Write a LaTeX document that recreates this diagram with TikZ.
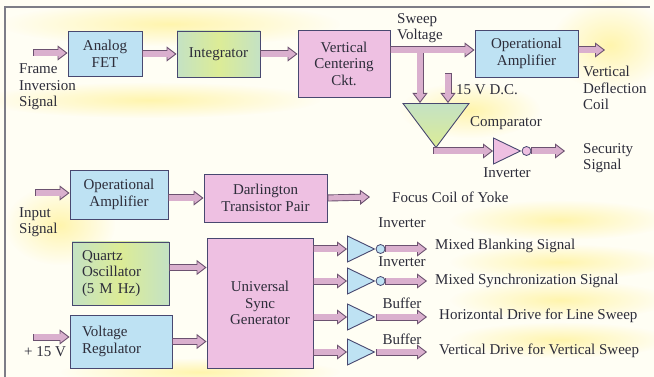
\documentclass[tikz,border=0pt]{standalone}
\usepackage{fontspec}
\setmainfont{Liberation Serif}
\usetikzlibrary{arrows.meta,shapes.geometric,fadings}

\definecolor{paper}{RGB}{255,254,244}
\definecolor{blob}{RGB}{255,242,150}
\definecolor{frameline}{RGB}{125,125,135}
\definecolor{boxedge}{RGB}{72,72,112}
\definecolor{bluebox}{RGB}{190,226,243}
\definecolor{pinkbox}{RGB}{238,192,226}
\definecolor{greenbox}{RGB}{196,226,196}
\definecolor{greenmid}{RGB}{220,236,150}
\definecolor{pipefill}{RGB}{218,176,206}
\definecolor{pipeedge}{RGB}{108,82,112}
\definecolor{ink}{RGB}{45,45,58}

\tikzfading[name=softspot, inner color=transparent!25, outer color=transparent!100]

\tikzset{
  block/.style={draw=boxedge, line width=0.9pt, align=center, inner sep=2pt, text=ink},
  bluebk/.style={block, fill=bluebox},
  pinkbk/.style={block, fill=pinkbox},
  greenbk/.style={block, left color=greenbox, right color=greenbox, middle color=greenmid},
  gate/.style={isosceles triangle, isosceles triangle stretches, draw=boxedge,
    line width=0.9pt, inner sep=0pt, minimum width=26pt, minimum height=27pt},
  bubble/.style={circle, draw=boxedge, line width=0.8pt, inner sep=0pt, minimum size=9pt},
  pipe/.style={draw=pipeedge, line width=7pt,
    -{Triangle[length=10pt, width=15pt, fill=pipefill, line width=0.9pt]},
    postaction={draw=pipefill, line width=5.2pt, -, shorten <=0.9pt, shorten >=8pt}},
  lbl/.style={text=ink, inner sep=0pt, align=left},
}

\begin{document}
\begin{tikzpicture}[x=1pt, y=-1pt, font=\fontsize{15}{16.5}\selectfont]
  \useasboundingbox (0,0) rectangle (654,377);
  % paper with yellow patches
  \fill[paper] (0,0) rectangle (654,377);
  \foreach \cx/\cy/\rx/\ry in {170/24/170/22, 150/100/170/18, 610/45/60/45,
      60/225/55/40, 560/220/110/20, 560/262/110/18, 560/300/110/20,
      560/340/110/18, 200/372/140/14, 470/110/70/28}
    \fill[blob, path fading=softspot] (\cx,\cy) ellipse ({\rx} and {\ry});
  \draw[frameline, line width=1.2pt] (5,377) -- (5,7) -- (650,7);

  % vertical deflection chain
  \node[bluebk, minimum width=74pt, minimum height=45pt] (fet) at (105,54) {Analog\\FET};
  \node[greenbk, minimum width=83pt, minimum height=46pt] (integ) at (218.5,54) {Integrator};
  \node[pinkbk, minimum width=92pt, minimum height=67pt] (vcc) at (344,63.5) {Vertical\\Centering\\Ckt.};
  \node[bluebk, minimum width=103pt, minimum height=47pt] (vamp) at (526.5,53.5) {Operational\\Amplifier};
  \node[gate, shape border rotate=270, anchor=north, top color=greenbox, bottom color=greenmid,
    minimum width=66pt, minimum height=44pt] (cmp) at (436,103) {};
  \node[gate, fill=pinkbox, anchor=west] (sinv) at (493,151) {};
  \node[bubble, fill=pinkbox, anchor=west] (sbub) at (sinv.apex) {};

  \node[lbl, anchor=west] (frmtxt) at (19,87) {Frame\\Inversion\\Signal};
  \node[lbl, anchor=west] (sweep) at (397,28) {Sweep\\Voltage};
  \node[lbl, anchor=west] (dctxt) at (456,90) {15 V D.C.};
  \node[lbl, anchor=west] (defl) at (583,88) {Vertical\\Deflection\\Coil};
  \node[lbl] (cmptxt) at (506,123) {Comparator};
  \node[lbl] (sinvtxt) at (507,173) {Inverter};
  \node[lbl, anchor=west] (secur) at (583,158) {Security\\Signal};

  \coordinate (frmin) at (33,53);
  \coordinate (tap) at (420,50);
  \coordinate (dc) at (448,73);
  \coordinate (vout) at (605,50);

  \draw[pipe] (frmin) -- (frmin -| fet.west);
  \draw[pipe] (fet) -- (integ);
  \draw[pipe] (integ.east) -- (integ.east -| vcc.west);
  \draw[pipe] (tap) -- (tap |- cmp.north);
  \draw[pipe] (dc) -- (dc |- cmp.north);
  \draw[pipe] (tap -| vcc.east) -- (tap -| vamp.west);
  \draw[pipe] (vout -| vamp.east) -- (vout);
  \draw[pipe] ([xshift=-3pt]cmp.apex |- sinv.west) -- (sinv.west);
  \draw[pipe] (sbub.east) -- ([xshift=-18pt]secur.west |- sbub.east);

  % focus coil
  \node[bluebk, minimum width=98pt, minimum height=49pt] (iamp) at (119,194.5) {Operational\\Amplifier};
  \node[pinkbk, minimum width=123pt, minimum height=48pt] (darl) at (265.5,198) {Darlington\\Transistor Pair};
  \node[lbl, anchor=west] (intxt) at (19,222) {Input\\Signal};
  \node[lbl, anchor=west] (focus) at (392,197) {Focus Coil of Yoke};
  \coordinate (insig) at (35,193);

  \draw[pipe] (insig) -- (insig -| iamp.west);
  \draw[pipe] (darl.west -| iamp.east) -- (darl.west);
  \draw[pipe] (darl.east) -- ([xshift=-22pt]focus.west);

  % sync generator
  \node[greenbk, text width=77pt, inner xsep=10pt, minimum height=63pt, align=left] (xtal) at (120.5,273.5) {Quartz\\Oscillator\\(5 M Hz)};
  \node[bluebk, text width=78pt, inner xsep=12pt, minimum height=53pt, align=left] (vreg) at (121,341.5) {Voltage\\Regulator};
  \node[pinkbk, minimum width=106pt, minimum height=130pt] (usg) at (260,303) {Universal\\Sync\\Generator};
  \node[lbl] (vintxt) at (45,352) {+ 15 V};
  \coordinate (vin) at (33,337);

  \draw[pipe] (vin) -- (vin -| vreg.west);
  \draw[pipe] ([yshift=6pt]xtal.east) -- ([yshift=6pt]xtal.east -| usg.west);
  \draw[pipe] (vreg.east) -- (vreg.east -| usg.west);

  \foreach \g/\y in {1/249, 2/281, 3/317, 4/352} {
    \node[gate, fill=bluebox, anchor=west] (g\g) at (347,\y) {};
    \draw[pipe] (usg.east |- g\g.west) -- (g\g.west);
  }
  \node[bubble, fill=bluebox, anchor=west] (b1) at (g1.apex) {};
  \node[bubble, fill=bluebox, anchor=west] (b2) at (g2.apex) {};

  \node[lbl] (inv1) at (402,223) {Inverter};
  \node[lbl] (inv2) at (402,262) {Inverter};
  \node[lbl] (buf3) at (402,303) {Buffer};
  \node[lbl] (buf4) at (402,339) {Buffer};
  \node[lbl, anchor=west] (o1) at (435,246) {Mixed Blanking Signal};
  \node[lbl, anchor=west] (o2) at (435,281) {Mixed Synchronization Signal};
  \node[lbl, anchor=west] (o3) at (439,316) {Horizontal Drive for Line Sweep};
  \node[lbl, anchor=west] (o4) at (439,351) {Vertical Drive for Vertical Sweep};

  \draw[pipe] (b1.east) -- ([xshift=-8pt]o1.west |- b1.east);
  \draw[pipe] (b2.east) -- ([xshift=-8pt]o2.west |- b2.east);
  \draw[pipe] (g3.apex) -- ([xshift=-12pt]o3.west |- g3.apex);
  \draw[pipe] (g4.apex) -- ([xshift=-12pt]o4.west |- g4.apex);
\end{tikzpicture}
\end{document}
